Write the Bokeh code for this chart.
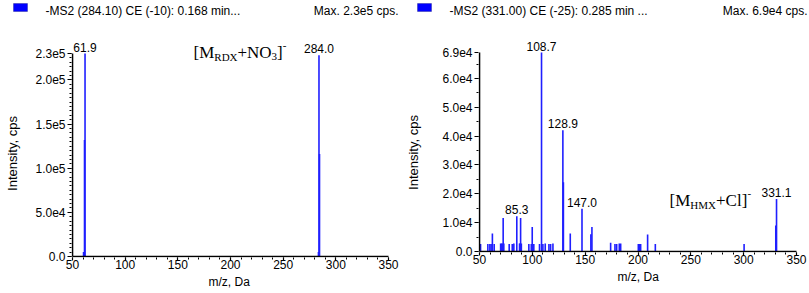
import math
from bokeh.plotting import figure
from bokeh.layouts import row, column
from bokeh.models import Range1d, FixedTicker, Label, ColumnDataSource, PolyAnnotation, Title
from bokeh.embed import file_html
from bokeh.resources import INLINE

# ---------------- data ----------------
rdx_mz = [60.5, 61.4, 61.9, 283.5, 284.0, 284.5]
rdx_int = [5.0e3, 1.32e5, 2.30e5, 5.0e3, 2.28e5, 1.16e5]
rdx_peak_labels = [(61.9, 2.30e5, "61.9"), (284.0, 2.28e5, "284.0")]
rdx_yticks = [0, 5.0e4, 1.0e5, 1.5e5, 2.0e5, 2.3e5]
rdx_ytick_labels = ["0.0", "5.0e4", "1.0e5", "1.5e5", "2.0e5", "2.3e5"]

hmx_mz = [51.0, 57.9, 59.8, 61.0, 62.2, 63.9, 70.0, 70.9, 71.6, 72.4, 73.0,
          78.1, 81.0, 82.5, 85.3, 87.9, 88.4, 88.9, 89.6, 96.7, 99.0, 99.9,
          101.4, 106.8, 108.7, 110.0, 112.2, 115.7, 117.3, 119.5, 128.9, 129.4,
          135.9, 147.0, 155.4, 156.4, 174.1, 178.2, 179.8, 182.3, 183.6, 200.3,
          201.3, 202.5, 209.1, 216.4, 300.4, 330.4, 331.1]
hmx_int = [2.6e3, 2.6e3, 2.6e3, 2.6e3, 6.2e3, 2.6e3, 2.8e3, 2.8e3, 2.8e3, 1.16e4, 2.8e3,
           2.6e3, 2.6e3, 2.8e3, 1.22e4, 2.8e3, 2.8e3, 1.16e4, 2.8e3, 2.6e3, 2.6e3, 8.5e3,
           2.6e3, 2.6e3, 6.9e4, 2.6e3, 2.8e3, 2.6e3, 2.6e3, 2.8e3, 4.2e4, 2.4e4,
           6.2e3, 1.48e4, 6.0e3, 8.5e3, 3.0e3, 2.6e3, 2.6e3, 2.8e3, 2.8e3, 2.6e3,
           2.6e3, 2.6e3, 5.9e3, 2.6e3, 2.6e3, 9.0e3, 1.82e4]
hmx_peak_labels = [(108.7, 6.9e4, "108.7"), (128.9, 4.2e4, "128.9"), (85.3, 1.22e4, "85.3"),
                   (147.0, 1.48e4, "147.0"), (331.1, 1.82e4, "331.1")]
hmx_yticks = [0, 1.0e4, 2.0e4, 3.0e4, 4.0e4, 5.0e4, 6.0e4, 6.9e4]
hmx_ytick_labels = ["0.0", "1.0e4", "2.0e4", "3.0e4", "4.0e4", "5.0e4", "6.0e4", "6.9e4"]

x_ticks = [50, 100, 150, 200, 250, 300, 350]
x_minor = list(range(50, 351, 10))

headers = ["-MS2 (284.10) CE (-10): 0.168 min...", "-MS2 (331.00) CE (-25): 0.285 min ..."]
max_texts = ["Max. 2.3e5 cps.", "Max. 6.9e4 cps."]
x_title = "m/z, Da"
y_title = "Intensity, cps"

BLUE = "#1f1fff"
SANS = "Liberation Sans"
SERIF = "Liberation Serif"
HEAD_H = 20
BOTTOM = 36


def blank(width, height):
    f = figure(width=width, height=height, output_backend="svg", toolbar_location=None,
               x_range=Range1d(0, width), y_range=Range1d(height, 0),
               min_border_left=0, min_border_right=0, min_border_top=0, min_border_bottom=0)
    f.axis.visible = False
    f.grid.visible = False
    f.outline_line_color = None
    return f


def make_plot(width, height, left, px0, pxmax, pytop, mz, inten, ymax, yticks, ylabels,
              peaks, formula, xlab):
    frame_h = height - BOTTOM
    y_zero_px = frame_h - 1
    k = ymax / (y_zero_px - pytop)
    ux = (x_ticks[-1] - x_ticks[0]) / (pxmax - px0)
    x0 = x_ticks[0] - (px0 - left) * ux
    x1 = x_ticks[0] + (width - px0) * ux
    p = figure(width=width, height=height, output_backend="svg", toolbar_location=None,
               x_range=Range1d(x0, x1), y_range=Range1d(-k, ymax + pytop * k),
               min_border_left=left, min_border_right=0,
               min_border_top=0, min_border_bottom=BOTTOM)
    p.outline_line_color = None
    p.grid.visible = False

    src = ColumnDataSource(dict(x=mz, y=inten, y0=[0] * len(mz)))
    p.segment(x0="x", y0="y0", x1="x", y1="y", source=src, line_color=BLUE, line_width=1.6)

    # axis lines (drawn over the tick span)
    p.segment(x0=[x_ticks[0], x_ticks[0]], y0=[0, 0], x1=[x_ticks[-1], x_ticks[0]], y1=[0, ymax],
              line_color="black", line_width=1.6)

    for ax in (p.xaxis[0], p.yaxis[0]):
        ax.axis_line_color = None
        ax.major_tick_line_color = "black"
        ax.minor_tick_line_color = "black"
        ax.major_tick_line_width = 1.2
        ax.major_tick_in = 0
        ax.minor_tick_in = 0
        ax.major_label_text_font = SANS
        ax.major_label_text_color = "black"
        ax.major_label_text_font_size = "12px"

    p.xaxis.ticker = FixedTicker(ticks=x_ticks, minor_ticks=x_minor)
    p.xaxis.major_tick_out = 3
    p.xaxis.minor_tick_out = 2
    p.xaxis.major_label_standoff = -1

    p.yaxis.ticker = FixedTicker(ticks=yticks, minor_ticks=[i * 5000 for i in range(int(ymax // 5000) + 1)])
    p.yaxis.major_label_overrides = {t: l for t, l in zip(yticks, ylabels)}
    p.yaxis.major_tick_out = 4
    p.yaxis.minor_tick_out = 2
    p.yaxis.major_label_standoff = 2

    p.add_layout(Title(text=x_title, align="left", offset=xlab[0], text_font=SANS,
                       text_font_size="12px", text_font_style="normal", text_color="black",
                       standoff=xlab[1]), "below")

    for (x, y, t) in peaks:
        p.add_layout(Label(x=x, y=y, text=t, text_align="center", text_baseline="bottom",
                           y_offset=2, text_font=SANS, text_font_size="12px", text_color="black"))

    fx, fy = formula[0], formula[1]
    for (dx, dy, t, s) in formula[2]:
        p.add_layout(Label(x=fx + dx, y=fy + dy, x_units="canvas", y_units="canvas",
                           text=t, text_font=SERIF, text_font_size=s,
                           text_baseline="alphabetic", text_color="black"))
    return p


def y_strip(width, height, cx, cy):
    s = blank(width, height)
    s.add_layout(Label(x=cx, y=cy, x_units="canvas", y_units="canvas", text=y_title,
                       text_font=SANS, text_font_size="13px", angle=math.pi / 2,
                       text_align="center", text_baseline="middle", text_color="black"))
    return s


def header(width, hx, mx, txt, mtxt):
    h = blank(width, HEAD_H)
    h.add_layout(PolyAnnotation(xs=[hx - 32, hx - 18, hx - 18, hx - 32], ys=[3, 3, 11, 11],
                                xs_units="canvas", ys_units="canvas",
                                fill_color="#0000ff", fill_alpha=1, line_color="#000066"))
    h.add_layout(Label(x=hx, y=10, x_units="canvas", y_units="canvas", text=txt,
                       text_font=SANS, text_font_size="12px", text_baseline="middle",
                       text_color="black"))
    h.add_layout(Label(x=mx, y=10, x_units="canvas", y_units="canvas", text=mtxt,
                       text_font=SANS, text_font_size="12px", text_align="right",
                       text_baseline="middle", text_color="black"))
    return h


# ---- left panel (global x 0..404) ----
LS = 24   # width of y-title strip
rdx_formula = (193 - LS, 52 - HEAD_H, [(0, 0, "[M", "17px"), (20.8, 4, "RDX", "11px"), (44, 0, "+NO", "17px"),
                                       (78.1, 4, "3", "11px"), (83.6, 0, "]", "17px"), (89.3, -7, "-", "11px")])
left_plot = make_plot(404 - LS, 273, 71 - LS, 72 - LS, 388 - LS, 53 - HEAD_H, rdx_mz, rdx_int, 2.3e5,
                      rdx_yticks, rdx_ytick_labels, rdx_peak_labels, rdx_formula, (137, 3))
left_panel = column(header(404, 45, 398, headers[0], max_texts[0]),
                    row(y_strip(LS, 273, 12, 153 - HEAD_H), left_plot))

# ---- right panel (global x 404..809) ----
RS = 18
hmx_formula = (669 - 404 - RS, 200 - HEAD_H, [(0, 0, "[M", "17px"), (20.8, 4, "HMX", "11px"),
                                              (46.5, 0, "+Cl", "17px"), (72.2, 0, "]", "17px"),
                                              (77.9, -7, "-", "11px")])
right_plot = make_plot(405 - RS, 268, 74 - RS, 75 - RS, 392 - RS, 52 - HEAD_H, hmx_mz, hmx_int, 6.9e4,
                       hmx_yticks, hmx_ytick_labels, hmx_peak_labels, hmx_formula, (139, 3))
right_panel = column(header(405, 45, 403, headers[1], max_texts[1]),
                     row(y_strip(RS, 268, 9, 152 - HEAD_H), right_plot))

layout = row(left_panel, right_panel)
open("out.html", "w").write(file_html(layout, INLINE))
